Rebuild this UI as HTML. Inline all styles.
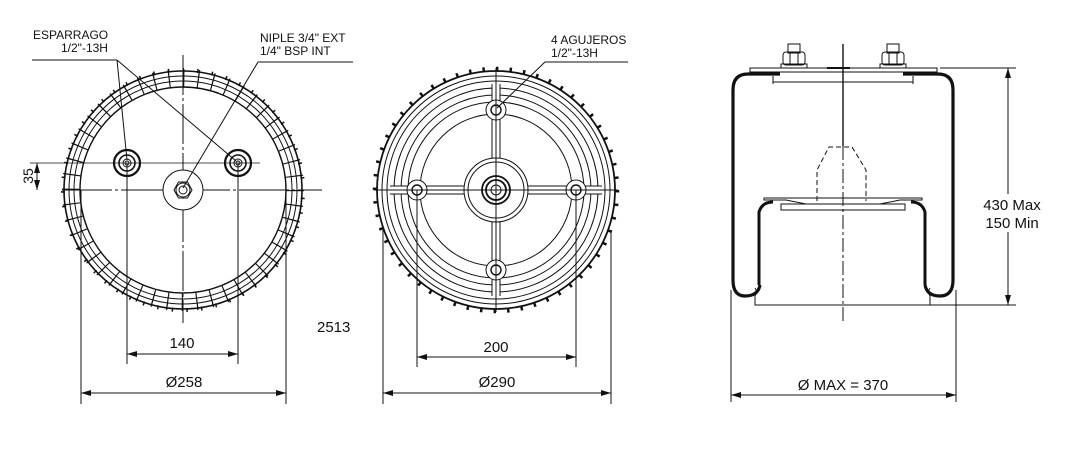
<!DOCTYPE html>
<html><head><meta charset="utf-8"><style>
html,body{margin:0;padding:0;background:#fff;width:1074px;height:453px;overflow:hidden}
svg{display:block}
text{font-family:"Liberation Sans",Arial,sans-serif;fill:#111}
</style></head><body>
<svg width="1074" height="453" viewBox="0 0 1074 453" xmlns="http://www.w3.org/2000/svg" stroke="#111" fill="none" stroke-width="1">
<defs>
<marker id="a" viewBox="0 0 10 6" refX="10" refY="3" markerWidth="10" markerHeight="6" orient="auto-start-reverse" markerUnits="userSpaceOnUse"><path d="M0,0L10,3L0,6z" fill="#111" stroke="none"/></marker>
</defs>
<!-- LEFT VIEW -->
<g>
<circle cx="183" cy="190" r="112" stroke-width="18" stroke-dasharray="1.2 13.46"/>
<circle cx="183" cy="190" r="120" stroke-width="4" stroke-dasharray="1.5 13.16" stroke-dashoffset="7"/>
<circle cx="183" cy="190" r="119" stroke-width="1.6"/>
<circle cx="183" cy="190" r="114"/>
<circle cx="183" cy="190" r="109"/>
<circle cx="183" cy="190" r="103" stroke-width="1.4"/>
<line x1="183" y1="55" x2="183" y2="323" stroke-dasharray="40,3,3,3"/>
<line x1="62" y1="190" x2="322" y2="190" stroke-dasharray="50,3,3,3"/>
<line x1="30" y1="163" x2="260" y2="163" stroke-width="0.8"/>
<circle cx="127" cy="163" r="13" stroke-width="2.2"/><circle cx="127" cy="163" r="8" stroke-width="1.6"/><circle cx="127" cy="163" r="4"/><circle cx="127" cy="163" r="2"/>
<circle cx="238" cy="163" r="13" stroke-width="2.2"/><circle cx="238" cy="163" r="8" stroke-width="1.6"/><circle cx="238" cy="163" r="4"/><circle cx="238" cy="163" r="2"/>
<circle cx="183" cy="190" r="20" fill="#fff"/>
<polygon points="174,190 178.5,182 187.5,182 192,190 187.5,198 178.5,198"/>
<circle cx="183" cy="190" r="7"/><circle cx="183" cy="190" r="4"/>
<line x1="32" y1="60" x2="117" y2="60"/>
<line x1="117" y1="60" x2="127" y2="160"/>
<line x1="117" y1="60" x2="236" y2="161"/>
<line x1="353" y1="62" x2="258" y2="62"/>
<line x1="258" y1="62" x2="183" y2="188"/>
<line x1="81" y1="190" x2="81" y2="404"/>
<line x1="286" y1="190" x2="286" y2="404"/>
<line x1="127" y1="163" x2="127" y2="364"/>
<line x1="238" y1="163" x2="238" y2="364"/>
<line x1="127" y1="354" x2="238" y2="354" marker-start="url(#a)" marker-end="url(#a)"/>
<line x1="81" y1="393" x2="286" y2="393" marker-start="url(#a)" marker-end="url(#a)"/>
<line x1="37" y1="163" x2="37" y2="190" marker-start="url(#a)" marker-end="url(#a)"/>
</g>
<text x="33" y="39" font-size="12" stroke="none">ESPARRAGO</text>
<text x="61" y="52" font-size="12" stroke="none">1/2"-13H</text>
<text x="260" y="42" font-size="12" stroke="none">NIPLE 3/4" EXT</text>
<text x="260" y="55" font-size="12" stroke="none">1/4" BSP INT</text>
<text x="29" y="176" font-size="14" stroke="none" transform="rotate(-90 29 176)" text-anchor="middle" dy="4">35</text>
<text x="182" y="348" font-size="15" stroke="none" text-anchor="middle">140</text>
<text x="184" y="387" font-size="15" stroke="none" text-anchor="middle">Ø258</text>
<text x="317" y="332" font-size="15" stroke="none">2513</text>

<!-- MIDDLE VIEW -->
<g>
<circle cx="496" cy="190" r="121" stroke-width="4.5" stroke-dasharray="2.5 11.07"/>
<circle cx="496" cy="190" r="119" stroke-width="1.8"/>
<circle cx="496" cy="190" r="114"/>
<circle cx="496" cy="190" r="109"/>
<circle cx="496" cy="190" r="102"/>
<circle cx="496" cy="190" r="95"/>
<circle cx="496" cy="190" r="88"/>
<circle cx="496" cy="190" r="76"/>
<rect x="492" y="82" width="8" height="216" fill="#fff" stroke="none"/>
<rect x="388" y="186" width="216" height="8" fill="#fff" stroke="none"/>
<line x1="492" y1="84" x2="492" y2="296"/><line x1="500" y1="84" x2="500" y2="296"/>
<line x1="390" y1="186" x2="602" y2="186"/><line x1="390" y1="194" x2="602" y2="194"/>
<circle cx="496" cy="190" r="32" fill="#fff"/>
<circle cx="496" cy="190" r="28"/>
<circle cx="496" cy="190" r="14" stroke-width="1.8"/>
<circle cx="496" cy="190" r="10" stroke-width="1.8"/>
<circle cx="496" cy="190" r="5"/>
<g fill="#fff">
<circle cx="496" cy="110" r="10"/><circle cx="496" cy="270" r="10"/><circle cx="417" cy="190" r="10"/><circle cx="576" cy="190" r="10"/>
</g>
<circle cx="496" cy="110" r="5" stroke-width="1.4"/><circle cx="496" cy="270" r="5" stroke-width="1.4"/><circle cx="417" cy="190" r="5" stroke-width="1.4"/><circle cx="576" cy="190" r="5" stroke-width="1.4"/>
<line x1="496" y1="68" x2="496" y2="312"/>
<line x1="374" y1="190" x2="618" y2="190"/>
<line x1="628" y1="62" x2="545" y2="62"/>
<line x1="545" y1="62" x2="497" y2="108"/>
<line x1="383" y1="230" x2="383" y2="404"/>
<line x1="611" y1="230" x2="611" y2="404"/>
<line x1="417" y1="190" x2="417" y2="367"/>
<line x1="576" y1="190" x2="576" y2="367"/>
<line x1="417" y1="357" x2="576" y2="357" marker-start="url(#a)" marker-end="url(#a)"/>
<line x1="383" y1="393" x2="611" y2="393" marker-start="url(#a)" marker-end="url(#a)"/>
</g>
<text x="551" y="44" font-size="12" stroke="none">4 AGUJEROS</text>
<text x="551" y="57" font-size="12" stroke="none">1/2"-13H</text>
<text x="496" y="352" font-size="15" stroke="none" text-anchor="middle">200</text>
<text x="497" y="387" font-size="15" stroke="none" text-anchor="middle">Ø290</text>

<!-- RIGHT VIEW -->
<g>
<rect x="788" y="44" width="12" height="9"/>
<rect x="783" y="52" width="22" height="13" rx="3"/>
<line x1="790" y1="52" x2="790" y2="65"/><line x1="798" y1="52" x2="798" y2="65"/>
<rect x="781" y="64" width="26" height="4"/>
<rect x="887" y="44" width="12" height="9"/>
<rect x="882" y="52" width="22" height="13" rx="3"/>
<line x1="889" y1="52" x2="889" y2="65"/><line x1="897" y1="52" x2="897" y2="65"/>
<rect x="880" y="64" width="26" height="4"/>
<rect x="750" y="68" width="187" height="4"/>
<line x1="827" y1="68" x2="850" y2="68" stroke-width="2"/>
<line x1="773" y1="82" x2="913" y2="82"/>
<line x1="773" y1="76" x2="773" y2="84"/><line x1="913" y1="76" x2="913" y2="84"/>
<path d="M780,74 L748,74 Q733,74 733,90 L733,280 Q733,296 745,296 Q758,296 760,285" stroke-width="3.2"/>
<path d="M903,74 L938,74 Q953,74 953,90 L953,280 Q953,296 940,296 Q927,296 925,285" stroke-width="3.2"/>
<path d="M773,202 Q762,202 759,212 L759,285" stroke-width="3"/>
<path d="M911,202 Q922,202 925,212 L925,285" stroke-width="3"/>
<path d="M764,198 L922,198 L922,200 L900,200 L880,204 L806,204 L786,200 L764,200 Z"/>
<rect x="781" y="204" width="124" height="6"/>
<path d="M817,201 L817,170 L829,147 L852,147 L866,170 L866,201" stroke-dasharray="5,3"/>
<path d="M755,288 Q758,292 755,296 L755,305 L930,305 L930,296 Q927,292 930,288"/>
<line x1="843" y1="44" x2="843" y2="146" stroke-width="1.4"/>
<line x1="843" y1="146" x2="843" y2="324" stroke-dasharray="14,3,3,3"/>
<line x1="940" y1="68" x2="1016" y2="68"/>
<line x1="930" y1="305" x2="1016" y2="305"/>
<line x1="1008" y1="68" x2="1008" y2="305" marker-start="url(#a)" marker-end="url(#a)"/>
<line x1="731" y1="290" x2="731" y2="402"/>
<line x1="956" y1="290" x2="956" y2="402"/>
<line x1="731" y1="395" x2="956" y2="395" marker-start="url(#a)" marker-end="url(#a)"/>
</g>
<rect x="970" y="194" width="84" height="38" fill="#fff" stroke="none"/>
<text x="1012" y="210" font-size="15" stroke="none" text-anchor="middle">430 Max</text>
<text x="1012" y="228" font-size="15" stroke="none" text-anchor="middle">150 Min</text>
<text x="843" y="390" font-size="15" stroke="none" text-anchor="middle">Ø MAX = 370</text>
</svg>
</body></html>
